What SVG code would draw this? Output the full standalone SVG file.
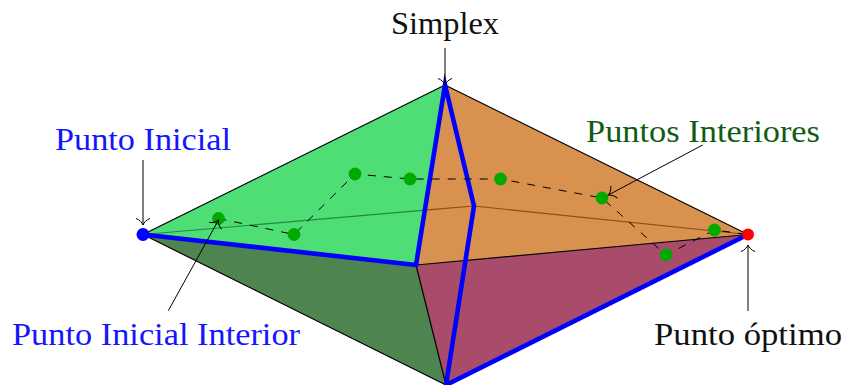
<svg xmlns="http://www.w3.org/2000/svg" width="845" height="385" viewBox="0 0 845 385">
<style>
text{font-family:"Liberation Serif","Times New Roman",serif;font-size:32px}
.edge{fill:none;stroke:#000;stroke-width:1.200;stroke-linejoin:round}
.blue{fill:none;stroke:#0000ff;stroke-width:4.600;stroke-linejoin:miter;stroke-miterlimit:10}
.dash{fill:none;stroke:#000;stroke-width:1;stroke-dasharray:8 8}
.arrow{fill:none;stroke:#000;stroke-width:1;marker-end:url(#tip)}
.pt{fill:#00aa00}
</style>
<defs>
<marker id="tip" markerUnits="userSpaceOnUse" markerWidth="16" markerHeight="18" refX="8" refY="9" orient="auto" overflow="visible">
<path d="M1.500,2C2.500,5.500 6,8.300 8,9C6,9.700 2.500,12.500 1.500,16" fill="none" stroke="#000" stroke-width="1"/>
</marker>
</defs>
<g id="faces">
<polygon points="143,234.500 445,85 416,265" fill="#4fdd75"/>
<polygon points="445,85 748,234.500 416,265" fill="#d9914f"/>
<polygon points="143,234.500 416,265 446,385" fill="#4e844f"/>
<polygon points="416,265 748,234.500 446,385" fill="#a94b6a"/>
</g>
<g id="connectors">
<path d="M143,234.500L425,210.200" fill="none" stroke="#1f8a45" stroke-width="1.200"/>
<path d="M425,210.200L474,206L748,234.500" fill="none" stroke="#8a5010" stroke-width="1.200"/>
<path class="edge" d="M143,234.500L445,85L748,234.500L416,265L446,385L143,234.500"/>
<path class="blue" d="M143,234.500L416,265L445,85L474,206L446,385L748,234.500"/>
<path class="dash" d="M218.500,218.500L294,234.500L355,174L410,179L500.500,179L602,198L666,255L714.500,230L748,234.500"/>
</g>
<g id="start"><circle cx="143" cy="234.500" r="6.500" fill="#0000ff"/></g>
<g id="optimum"><circle cx="748" cy="234.500" r="6" fill="#ff0000"/></g>
<g id="interior">
<circle class="pt" cx="218.500" cy="218.500" r="6.400"/>
<circle class="pt" cx="294" cy="234.500" r="6.400"/>
<circle class="pt" cx="355" cy="174" r="6.400"/>
<circle class="pt" cx="410" cy="179" r="6.400"/>
<circle class="pt" cx="500.500" cy="179" r="6.400"/>
<circle class="pt" cx="602" cy="198" r="6.400"/>
<circle class="pt" cx="666" cy="255" r="6.400"/>
<circle class="pt" cx="714.500" cy="230" r="6.400"/>
</g>
<g id="arrows">
<path class="arrow" d="M445,48V85"/>
<path class="arrow" d="M143,160V225"/>
<path class="arrow" d="M748,311V245"/>
<path class="arrow" d="M168.300,310.700L218.500,220"/>
<path class="arrow" d="M702.700,145L608.300,195"/>
</g>
<g id="label-simplex"><text x="391" y="33.500" textLength="108" lengthAdjust="spacingAndGlyphs" fill="#111">Simplex</text></g>
<g id="label-inicial"><text x="55" y="150" textLength="176" lengthAdjust="spacingAndGlyphs" fill="#1414ff">Punto Inicial</text></g>
<g id="label-interiores"><text x="586" y="142" textLength="234" lengthAdjust="spacingAndGlyphs" fill="#0f5c14">Puntos Interiores</text></g>
<g id="label-inicial-interior"><text x="12" y="345" textLength="288" lengthAdjust="spacingAndGlyphs" fill="#1414ff">Punto Inicial Interior</text></g>
<g id="label-optimo"><text x="654" y="345" textLength="188" lengthAdjust="spacingAndGlyphs" fill="#111">Punto óptimo</text></g>
</svg>
